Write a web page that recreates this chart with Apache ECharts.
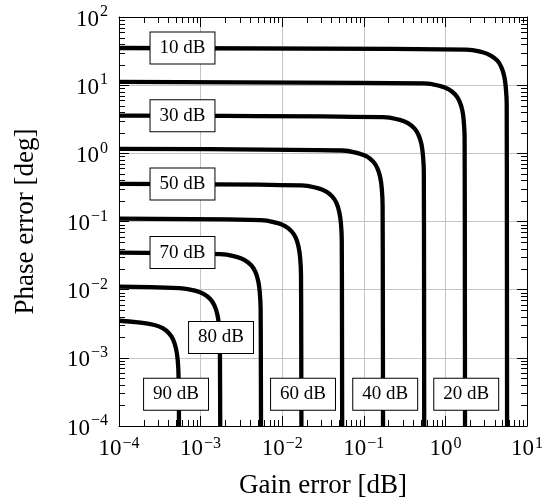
<!DOCTYPE html>
<html>
<head>
<meta charset="utf-8">
<script src="https://cdn.jsdelivr.net/npm/echarts@6/dist/echarts.min.js"></script>
<style>
  html, body { margin: 0; padding: 0; background: #fff; }
  #main_chart { width: 546px; height: 504px; }
</style>
</head>
<body>
<div id="main_chart"></div>
<script>
// curves: [gain error dB, phase error deg]
var curve10 = [[1e-4, 35.1], [1.8, 33.3], [2.86, 30.4], [3.6, 27.2], [4.33, 22.9], [4.85, 18.4], [5.26, 13.5], [5.5, 9.1], [5.64, 5.3], [5.7, 1e-4]];
var curve20 = [[1e-4, 11.2], [0.55, 10.6], [0.872, 9.69], [1.1, 8.69], [1.32, 7.29], [1.48, 5.88], [1.61, 4.3], [1.68, 2.9], [1.72, 1.68], [1.74, 1e-4]];
var curve30 = [[1e-4, 3.57], [0.174, 3.39], [0.276, 3.09], [0.347, 2.77], [0.417, 2.32], [0.468, 1.87], [0.508, 1.37], [0.531, 0.925], [0.544, 0.536], [0.55, 1e-4]];
var curve40 = [[1e-4, 1.16], [0.0544, 1.1], [0.0862, 1.0], [0.1085, 0.9], [0.1305, 0.755], [0.1464, 0.609], [0.1588, 0.445], [0.1662, 0.3], [0.17, 0.174], [0.172, 1e-4]];
var curve50 = [[1e-4, 0.356], [0.01716, 0.338], [0.0272, 0.308], [0.0343, 0.276], [0.0412, 0.232], [0.0462, 0.187], [0.0501, 0.137], [0.0525, 0.0922], [0.0537, 0.0534], [0.0543, 1e-4]];
var curve60 = [[1e-4, 0.11], [0.00544, 0.1044], [0.00862, 0.0952], [0.01085, 0.0854], [0.01305, 0.0716], [0.01464, 0.0578], [0.01588, 0.0422], [0.01662, 0.0285], [0.017, 0.0165], [0.0172, 1e-4]];
var curve70 = [[1e-4, 0.035], [0.00174, 0.0332], [0.00276, 0.0303], [0.00347, 0.0272], [0.00417, 0.0228], [0.00468, 0.0184], [0.00508, 0.0134], [0.00531, 0.00907], [0.00544, 0.00525], [0.0055, 1e-4]];
var curve80 = [[1e-4, 0.0111], [0.00055, 0.01053], [0.000872, 0.0096], [0.0011, 0.00861], [0.00132, 0.00723], [0.00148, 0.00583], [0.00161, 0.00426], [0.00168, 0.00287], [0.00172, 0.00167], [0.00174, 1e-4]];
var curve90 = [[1e-4, 0.0035], [0.000172, 0.00332], [0.000272, 0.00303], [0.000343, 0.00272], [0.000412, 0.00228], [0.000462, 0.00184], [0.000501, 0.00134], [0.000525, 0.000907], [0.000537, 0.000525], [0.000543, 1e-4]];

// boxed labels
var labelNames = ['10 dB', '20 dB', '30 dB', '40 dB', '50 dB', '60 dB', '70 dB', '80 dB', '90 dB'];
var labelGain  = [6e-4, 1.8, 6e-4, 0.183, 6e-4, 0.018, 6e-4, 0.00178, 5e-4];
var labelPhase = [35.1, 2.92e-4, 3.57, 2.92e-4, 0.356, 2.92e-4, 0.035, 0.00199, 2.92e-4];

// minor tick multipliers inside each decade
var minorSteps = [2, 3, 4, 5, 6, 7, 8, 9];
var xDecades = [-4, -3, -2, -1, 0];
var yDecades = [-4, -3, -2, -1, 0, 1];

var SERIF = '"Liberation Serif", "Times New Roman", serif';

var supLabel = function(v){
    var e = Math.round(Math.log10(v));
    var s = e < 0 ? '\u2212' + (-e) : '' + e;
    return '{b|10}{s|' + s + '}';
};
var richX = {
    b: {fontFamily: SERIF, fontSize: 23, lineHeight: 26, color: '#000'},
    s: {fontFamily: SERIF, fontSize: 16, lineHeight: 16, color: '#000', verticalAlign: 'top', padding: [0, 0, 0, 1]}
};
var richY = {
    b: {fontFamily: SERIF, fontSize: 23, lineHeight: 26, color: '#000', padding: [5, 0, 0, 0]},
    s: {fontFamily: SERIF, fontSize: 16, lineHeight: 16, color: '#000', verticalAlign: 'top', padding: [0, 0, 0, 1]}
};

var xMinor = [];
var yMinor = [];
var $each = function(arr, fn){ for(var i = 0; i < arr.length; i++){ fn(arr[i]); } };
$each(xDecades, function(d){ $each(minorSteps, function(m){ xMinor.push([m * Math.pow(10, d), 1]); }); });
$each(yDecades, function(d){ $each(minorSteps, function(m){ yMinor.push([1, m * Math.pow(10, d)]); }); });

var tickItem = function(dir){
    return function(params, api){
        var cs = params.coordSys;
        var pt = api.coord([api.value(0), api.value(1)]);
        var st = {stroke: '#000', lineWidth: 1};
        if(dir === 'x'){
            var x = Math.round(pt[0]) + 0.5;
            return {type: 'group', children: [
                {type: 'line', shape: {x1: x, y1: cs.y + cs.height, x2: x, y2: cs.y + cs.height - 6}, style: st},
                {type: 'line', shape: {x1: x, y1: cs.y, x2: x, y2: cs.y + 6}, style: st}
            ]};
        }
        var y = Math.round(pt[1]) + 0.5;
        return {type: 'group', children: [
            {type: 'line', shape: {x1: cs.x, y1: y, x2: cs.x + 6, y2: y}, style: st},
            {type: 'line', shape: {x1: cs.x + cs.width, y1: y, x2: cs.x + cs.width - 6, y2: y}, style: st}
        ]};
    };
};

var curves = [curve10, curve20, curve30, curve40, curve50, curve60, curve70, curve80, curve90];
var series = [];
$each(curves, function(c){
    series.push({
        type: 'line',
        data: c,
        showSymbol: false,
        symbol: 'none',
        smooth: 0.45,
        clip: true,
        z: 3,
        lineStyle: {color: '#000', width: 4.3, join: 'round'},
        animation: false
    });
});

var labelData = [];
for(var i = 0; i < labelNames.length; i++){
    labelData.push({name: labelNames[i], value: [labelGain[i], labelPhase[i]]});
}
series.push({
    type: 'scatter',
    data: labelData,
    symbolSize: 1,
    itemStyle: {color: 'rgba(0,0,0,0)', opacity: 1},
    z: 6,
    label: {
        show: true,
        position: 'inside',
        formatter: '{b}',
        fontFamily: SERIF,
        fontSize: 19,
        lineHeight: 21,
        color: '#000',
        opacity: 1,
        backgroundColor: '#fff',
        borderColor: '#000',
        borderWidth: 1,
        padding: [5, 9, 5, 9]
    },
    animation: false
});
series.push({type: 'custom', data: xMinor, renderItem: tickItem('x'), clip: false, z: 4, silent: true, animation: false});
series.push({type: 'custom', data: yMinor, renderItem: tickItem('y'), clip: false, z: 4, silent: true, animation: false});

var axisBase = function(pos, showLabel){
    return {
        type: 'log',
        logBase: 10,
        position: pos,
        axisLine: {show: true, onZero: false, lineStyle: {color: '#000', width: 1}},
        axisTick: {show: true, inside: true, length: 10, lineStyle: {color: '#000', width: 1}},
        minorTick: {show: false},
        splitLine: {show: showLabel, lineStyle: {color: '#c4c4c4', width: 1}}
    };
};

var xMain = axisBase('bottom', true);
xMain.min = 1e-4; xMain.max = 10; xMain.splitNumber = 5;
xMain.name = 'Gain error [dB]';
xMain.nameLocation = 'middle';
xMain.nameGap = 46;
xMain.nameTextStyle = {fontFamily: SERIF, fontSize: 27, color: '#000'};
xMain.axisLabel = {show: true, margin: 10, formatter: supLabel, rich: richX};

var xTop = axisBase('top', false);
xTop.min = 1e-4; xTop.max = 10; xTop.splitNumber = 5;
xTop.axisLabel = {show: false};

var yMain = axisBase('left', true);
yMain.min = 1e-4; yMain.max = 100; yMain.splitNumber = 6;
yMain.name = 'Phase error [deg]';
yMain.nameLocation = 'middle';
yMain.nameGap = 80;
yMain.nameTextStyle = {fontFamily: SERIF, fontSize: 27, color: '#000'};
yMain.axisLabel = {show: true, margin: 11, formatter: supLabel, rich: richY};

var yRight = axisBase('right', false);
yRight.min = 1e-4; yRight.max = 100; yRight.splitNumber = 6;
yRight.axisLabel = {show: false};

var chartOpt = {
    backgroundColor: '#fff',
    animation: false,
    grid: {left: 119, right: 17, top: 17, bottom: 78, containLabel: false},
    xAxis: [xMain, xTop],
    yAxis: [yMain, yRight],
    series: series
};

var main_chart = echarts.init(document.getElementById('main_chart'), null, {renderer: 'canvas'});
main_chart.setOption(chartOpt);
</script>
</body>
</html>
